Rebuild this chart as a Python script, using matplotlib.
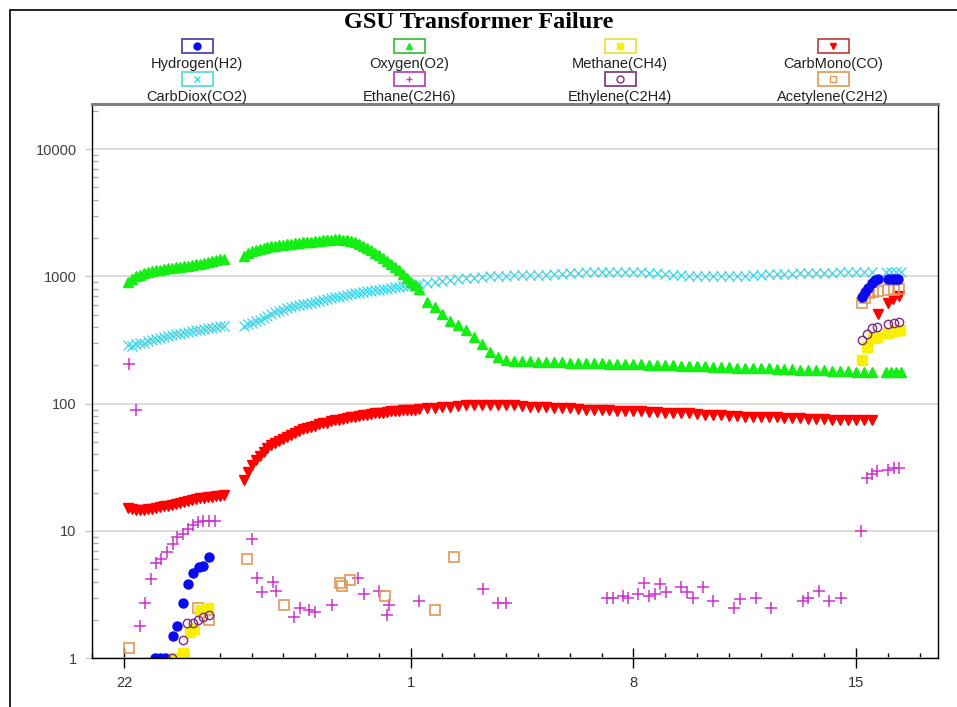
import numpy as np
import matplotlib
matplotlib.use("Agg")
import matplotlib.pyplot as plt
from matplotlib.patches import Rectangle
from matplotlib.lines import Line2D
from matplotlib.ticker import FixedLocator, NullFormatter, LogLocator

# x is in days counted from the "22" tick (22 -> 0, 1 -> 9, 8 -> 16, 15 -> 23)
tick_days = [0, 9, 16, 23]
tick_labels = ["22", "1", "8", "15"]

# regular sample times of the three dense series
dense_days = np.concatenate([0.125 * np.arange(1, 26),
                             3.75 + 0.125 * np.arange(45),
                             9.5 + 0.25 * np.arange(57)])

o2_vals = [900, 960, 1000, 1030, 1060, 1080, 1100, 1120, 1130, 1140,
           1160, 1170, 1180, 1190, 1200, 1210, 1230, 1240, 1260, 1280,
           1300, 1320, 1340, 1360, 1380,
           1450, 1520, 1570, 1610, 1640, 1670, 1700, 1720, 1740, 1760,
           1780, 1800, 1810, 1830, 1840, 1850, 1860, 1870, 1890, 1905,
           1920, 1930, 1940, 1950, 1950, 1940, 1920, 1890, 1850, 1800,
           1740, 1670, 1600, 1530, 1460, 1400, 1330, 1260, 1190, 1120,
           1050, 980, 910, 850, 790,
           630, 580, 505, 450, 415, 380, 335, 292, 255, 232,
           222, 218, 216, 215, 214, 213, 212, 211, 210, 210,
           209, 208, 207, 206, 206, 205, 205, 204, 203, 202,
           201, 200, 199, 198, 197, 196, 195, 194, 193, 192,
           191, 190, 190, 189, 188, 187, 186, 185, 185, 184,
           183, 182, 181, 180, 179, 178, 177]
o2_end_days = [23.95, 24.1, 24.25, 24.4]
o2_end_vals = [178, 177, 177, 176]

co2_vals = [290, 285, 292, 298, 302, 310, 315, 322, 328, 334,
            340, 345, 350, 355, 360, 366, 372, 376, 380, 386,
            390, 396, 400, 405, 410,
            410, 420, 432, 445, 458, 472, 488, 505, 522, 536,
            548, 560, 572, 582, 592, 602, 612, 622, 632, 642,
            652, 663, 674, 685, 695, 705, 715, 725, 735, 745,
            755, 763, 771, 779, 787, 795, 803, 811, 819, 827,
            835, 843, 851, 859, 866,
            880, 900, 920, 940, 955, 970, 980, 990, 1000, 1010,
            1015, 1020, 1022, 1025, 1028, 1030, 1040, 1050, 1060, 1068,
            1075, 1080, 1085, 1090, 1088, 1085, 1080, 1075, 1068, 1055,
            1045, 1030, 1020, 1010, 1005, 1000, 1000, 1000, 1005, 1010,
            1015, 1020, 1030, 1040, 1045, 1050, 1050, 1055, 1060, 1060,
            1065, 1070, 1075, 1080, 1085, 1090, 1090]
co2_end_days = [23.95, 24.1, 24.25, 24.4]
co2_end_vals = [1085, 1085, 1080, 1080]

co_vals = [15.2, 14.8, 14.5, 14.5, 14.6, 14.8, 15.0, 15.2, 15.4, 15.6,
           15.8, 16.1, 16.4, 16.7, 17.0, 17.3, 17.6, 17.8, 18.0, 18.2,
           18.4, 18.6, 18.8, 19.0, 19.2,
           25, 29, 33, 36, 39, 42, 45, 47, 49, 51,
           53, 55, 57, 59, 61, 63, 64, 66, 67, 69,
           70, 71, 73, 74, 75, 76, 77, 78, 79, 80,
           81, 82, 83, 84, 85, 85, 86, 87, 87, 88,
           89, 89, 90, 90, 91,
           92, 93, 94, 95, 96, 97, 98, 98, 98, 98,
           97, 97, 96, 95, 94, 94, 93, 92, 92, 91,
           90, 90, 89, 89, 88, 88, 87, 87, 86, 86,
           85, 85, 84, 84, 83, 82, 82, 81, 80, 80,
           79, 79, 78, 78, 78, 77, 77, 77, 76, 76,
           76, 75, 75, 75, 75, 74, 74]
co_end_days = [23.55, 23.68, 24.0, 24.15, 24.35]
co_end_vals = [330, 510, 620, 660, 700]

h2_days = [0.96, 1.12, 1.28, 1.53, 1.65, 1.85, 2.0, 2.15, 2.35, 2.47, 2.66,
           23.19, 23.28, 23.38, 23.5, 23.6, 23.69, 24.0, 24.13, 24.23, 24.33]
h2_vals = [1.0, 1.0, 1.0, 1.5, 1.8, 2.7, 3.8, 4.7, 5.2, 5.3, 6.2,
           690, 755, 810, 890, 930, 960, 950, 960, 960, 960]

ch4_days = [1.5, 1.85, 2.07, 2.19, 2.38, 2.63,
            23.19, 23.35, 23.53, 23.66, 24.0, 24.23, 24.38]
ch4_vals = [1.0, 1.1, 1.6, 1.7, 2.4, 2.5,
            220, 280, 330, 335, 360, 370, 380]

c2h4_days = [1.5, 1.85, 1.97, 2.16, 2.32, 2.47, 2.66,
             23.19, 23.35, 23.5, 23.66, 24.0, 24.19, 24.35]
c2h4_vals = [1.0, 1.4, 1.9, 1.9, 2.0, 2.1, 2.2,
             318, 350, 390, 400, 425, 430, 435]

c2h2_days = [0.15, 2.32, 2.66, 3.86, 5.02, 6.78, 6.84, 7.09, 8.2, 9.77, 10.36,
             23.19, 23.28, 23.41, 23.53, 23.69, 24.0, 24.19, 24.35]
c2h2_vals = [1.2, 2.5, 2.0, 6.0, 2.6, 3.9, 3.7, 4.1, 3.1, 2.4, 6.2,
             620, 680, 740, 760, 770, 780, 785, 790]

c2h6_days = [0.15, 0.37, 0.49, 0.65, 0.84, 1.0, 1.15, 1.34, 1.53, 1.66, 1.85,
             2.0, 2.16, 2.32, 2.47, 2.66, 2.85,
             4.01, 4.17, 4.33, 4.67, 4.77, 5.33, 5.52, 5.81, 6.0, 6.53,
             7.34, 7.53, 8.0, 8.26, 8.32, 9.26, 11.27, 11.75, 12.0,
             15.17, 15.36, 15.68, 15.83, 16.15, 16.34, 16.5, 16.68, 16.84, 17.03,
             17.5, 17.69, 17.88, 18.19, 18.5, 19.17, 19.35, 19.86, 20.33,
             21.34, 21.49, 21.84, 22.15, 22.53,
             23.16, 23.35, 23.5, 23.66, 24.0, 24.19, 24.35]
c2h6_vals = [205, 90, 1.8, 2.7, 4.2, 5.6, 6.0, 6.8, 7.9, 9.0, 9.4,
             10.3, 11.2, 11.7, 12.0, 12.0, 12.0,
             8.7, 4.3, 3.3, 4.0, 3.4, 2.1, 2.5, 2.4, 2.3, 2.6,
             4.3, 3.2, 3.4, 2.2, 2.6, 2.8, 3.5, 2.7, 2.7,
             3.0, 3.0, 3.1, 3.0, 3.2, 3.9, 3.1, 3.2, 3.8, 3.3,
             3.6, 3.3, 3.0, 3.6, 2.8, 2.5, 2.9, 3.0, 2.5,
             2.8, 3.0, 3.4, 2.8, 3.0,
             10, 26, 28, 29.5, 30, 31, 31]

W, H = 957, 707
fig = plt.figure(figsize=(W / 100, H / 100), dpi=100)
ax = fig.add_axes([91.7 / W, (H - 658.3) / H, (937.5 - 91.7) / W, (658.3 - 104) / H])

styles = {
    "co2": dict(marker="x", color="#3cd6e6", ms=7, mew=0.9, ls="none"),
    "o2": dict(marker="^", color="#14ee14", ms=7.5, ls="none"),
    "co": dict(marker="v", color="#ff0000", ms=7.5, ls="none"),
    "c2h6": dict(marker="+", color="#cc33cc", ms=8, mew=1.1, ls="none"),
    "c2h2": dict(marker="s", mfc="none", mec="#e0985a", ms=7, mew=1.2, ls="none"),
    "ch4": dict(marker="s", color="#f8f000", ms=6.5, ls="none"),
    "h2": dict(marker="o", color="#0a0aee", ms=6.5, ls="none"),
    "c2h4": dict(marker="o", mfc="none", mec="#802a80", ms=6, mew=1.0, ls="none"),
}

ax.plot(dense_days, co2_vals, **styles["co2"])
ax.plot(co2_end_days, co2_end_vals, **styles["co2"])
ax.plot(dense_days, o2_vals, **styles["o2"])
ax.plot(o2_end_days, o2_end_vals, **styles["o2"])
ax.plot(dense_days, co_vals, **styles["co"])
ax.plot(co_end_days, co_end_vals, **styles["co"])
ax.plot(c2h6_days, c2h6_vals, **styles["c2h6"])
ax.plot(c2h2_days, c2h2_vals, **styles["c2h2"])
ax.plot(ch4_days, ch4_vals, **styles["ch4"])
ax.plot(h2_days, h2_vals, **styles["h2"])
ax.plot(c2h4_days, c2h4_vals, **styles["c2h4"])

ax.set_yscale("log")
ax.set_ylim(1, 22600)
ax.set_xlim(-1.025, 25.56)

# y axis: decades with light grid, minor ticks inside
ax.yaxis.set_major_locator(FixedLocator([1, 10, 100, 1000, 10000]))
ax.set_yticklabels(["1", "10", "100", "1000", "10000"])
ax.yaxis.set_minor_locator(LogLocator(base=10, subs=np.arange(2, 10)))
ax.yaxis.set_minor_formatter(NullFormatter())
ax.tick_params(axis="y", which="major", direction="out", length=5, width=1,
               color="#c8c8c8", labelsize=10.5, labelcolor="#404040", pad=5.8)
ax.tick_params(axis="y", which="minor", direction="in", length=4.3, width=1,
               color="#b0b0b0")
ax.grid(True, axis="y", which="major", color="#d4d4d4", linewidth=1.2)

# x axis: one minor tick per day, labelled weekly ticks
ax.xaxis.set_major_locator(FixedLocator(tick_days))
ax.set_xticklabels(tick_labels)
ax.xaxis.set_minor_locator(FixedLocator(np.arange(-1, 26)))
ax.tick_params(axis="x", which="major", direction="inout", length=14.4, width=1,
               color="black", labelsize=10.5, labelcolor="#333333", pad=5.5)
ax.tick_params(axis="x", which="minor", direction="in", length=3.6, width=1,
               color="black")

for lbl in ax.get_xticklabels() + ax.get_yticklabels():
    lbl.set_fontfamily("Liberation Sans")

ax.spines["top"].set_color("#808080")
ax.spines["top"].set_linewidth(2.2)
for s in ["left", "right", "bottom"]:
    ax.spines[s].set_color("black")
    ax.spines[s].set_linewidth(1.0)

# outer frame of the picture (only top and left edge are visible)
fig.add_artist(Rectangle((10 / W, -0.1), 1.2, 1 - 10 / H + 0.1, transform=fig.transFigure,
                         fill=False, edgecolor="black", linewidth=1.2))

fig.text(0.5, 1 - 23 / H, "GSU Transformer Failure", ha="center", va="center",
         fontsize=17.5, fontweight="bold", family="Liberation Serif")

# legend: marker in a small box above each name, 4 columns x 2 rows
legend_items = [
    ("Hydrogen(H2)", "o", "#0a0aee", "#0a0aee", "#4a4aa8"),
    ("Oxygen(O2)", "^", "#14ee14", "#14ee14", "#40c040"),
    ("Methane(CH4)", "s", "#f8f000", "#f8f000", "#e8e040"),
    ("CarbMono(CO)", "v", "#ff0000", "#ff0000", "#c04848"),
    ("CarbDiox(CO2)", "x", "#3cd6e6", "#3cd6e6", "#60d8e0"),
    ("Ethane(C2H6)", "+", "#cc33cc", "#cc33cc", "#c040c0"),
    ("Ethylene(C2H4)", "o", "none", "#802a80", "#804080"),
    ("Acetylene(C2H2)", "s", "none", "#e0985a", "#e0a060"),
]
col_x = [197, 409, 620, 833]
box_y = [46, 79]
text_y = [64, 97]
bw, bh = 31, 14
for i, (name, mk, fc, ec, bc) in enumerate(legend_items):
    cx = col_x[i % 4]
    by = box_y[i // 4]
    ty = text_y[i // 4]
    fig.add_artist(Rectangle(((cx - bw / 2) / W, 1 - (by + bh / 2) / H), bw / W, bh / H,
                             transform=fig.transFigure, fill=False, edgecolor=bc,
                             linewidth=1.3))
    fig.add_artist(Line2D([cx / W], [1 - by / H], transform=fig.transFigure, marker=mk,
                          ms=5, mfc=fc, mec=ec, mew=1.0, ls="none"))
    fig.text(cx / W, 1 - ty / H, name, ha="center", va="center", fontsize=10.5,
             family="Liberation Sans", color="#202020")

plt.savefig("out.png", dpi=100)
